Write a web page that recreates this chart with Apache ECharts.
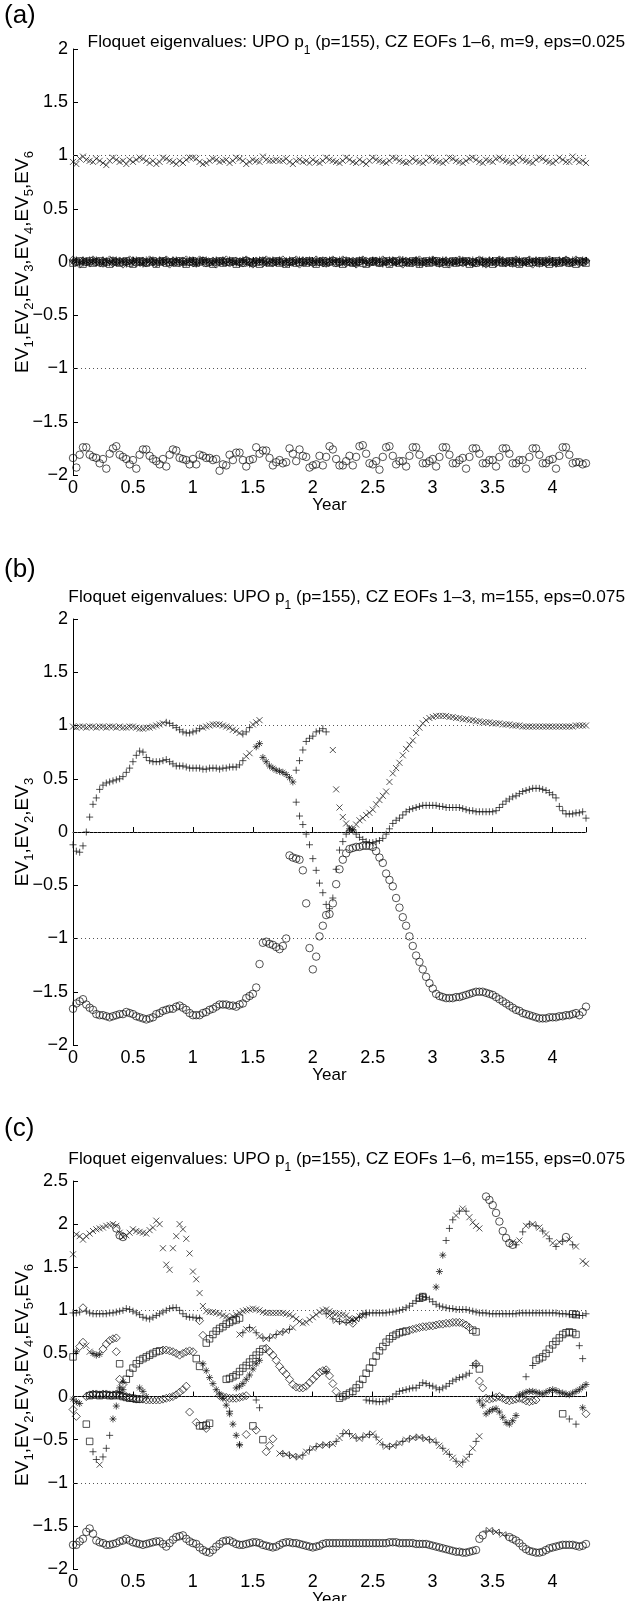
<!DOCTYPE html>
<html><head><meta charset="utf-8">
<script src="https://cdn.jsdelivr.net/npm/echarts@6/dist/echarts.min.js"></script>
<style>html,body{margin:0;padding:0;background:#fff}#c{width:626px;height:1601px}</style>
</head><body><div id="c"></div>
<script>
// ---------- sampling grid ----------
const N_POINTS = 155;
const X_MAX = 4.28;
const X_TICKS = [0, 0.5, 1, 1.5, 2, 2.5, 3, 3.5, 4];

// ---------- panel (a) : one value per sample ----------
const A_CROSS = [
0.94,0.92,0.97,0.99,0.96,0.95,0.94,0.97,0.95,0.93,
0.91,0.95,0.98,0.96,0.94,0.95,0.92,0.96,0.94,0.96,
0.98,0.97,0.95,0.93,0.95,0.92,0.94,0.98,0.97,0.95,
0.94,0.92,0.95,0.93,0.96,0.98,0.98,0.97,0.94,0.92,
0.93,0.95,0.97,0.96,0.94,0.95,0.96,0.93,0.95,0.98,
0.97,0.95,0.92,0.94,0.96,0.95,0.94,0.99,0.96,0.95,
0.95,0.96,0.95,0.95,0.97,0.94,0.92,0.95,0.96,0.94,
0.95,0.93,0.96,0.94,0.93,0.95,0.98,0.96,0.95,0.94,
0.93,0.95,0.98,0.96,0.94,0.93,0.96,0.94,0.92,0.95,
0.98,0.96,0.95,0.94,0.93,0.95,0.98,0.97,0.95,0.94,
0.93,0.94,0.97,0.95,0.94,0.93,0.95,0.98,0.96,0.95,
0.94,0.93,0.95,0.98,0.97,0.95,0.94,0.93,0.95,0.97,
0.98,0.96,0.94,0.93,0.96,0.95,0.94,0.97,0.98,0.96,
0.95,0.94,0.93,0.95,0.98,0.96,0.95,0.94,0.93,0.96,
0.98,0.97,0.95,0.94,0.93,0.95,0.98,0.96,0.94,0.94,
0.99,0.96,0.94,0.95,0.93];
const A_PLUS = [
0.01,0.02,0.00,-0.01,0.01,0.02,0.01,-0.01,0.00,0.02,
0.01,-0.01,0.00,0.02,0.01,0.00,-0.02,0.01,0.02,0.00,
-0.01,0.01,0.02,0.00,-0.01,0.01,0.02,0.01,-0.01,0.00,
0.02,0.01,0.00,-0.02,0.01,0.02,0.00,-0.01,0.01,0.02,
0.00,-0.01,0.01,0.02,0.01,-0.01,0.00,0.02,0.01,0.00,
-0.02,0.01,0.02,0.00,-0.01,0.01,0.02,0.01,-0.01,0.00,
0.02,0.01,0.00,-0.02,0.01,0.02,0.00,-0.01,0.01,0.02,
0.00,-0.01,0.01,0.02,0.01,-0.01,0.00,0.02,0.01,0.00,
-0.02,0.01,0.02,0.00,-0.01,0.01,0.02,0.01,-0.01,0.00,
0.02,0.01,0.00,-0.02,0.01,0.02,0.00,-0.01,0.01,0.02,
0.00,-0.01,0.01,0.02,0.01,-0.01,0.00,0.02,0.01,0.00,
-0.02,0.01,0.02,0.00,-0.01,0.01,0.02,0.01,-0.01,0.00,
0.02,0.01,0.00,-0.02,0.01,0.02,0.00,-0.01,0.01,0.02,
0.00,-0.01,0.01,0.02,0.01,-0.01,0.00,0.02,0.01,0.00,
-0.02,0.01,0.02,0.00,-0.01,0.01,0.02,0.01,-0.01,0.00,
0.02,0.01,0.00,-0.01,0.01];
const A_STAR = [
0.00,0.01,-0.01,0.02,0.00,-0.01,0.01,0.02,0.00,-0.02,
0.01,0.00,0.02,-0.01,0.00,0.01,0.01,-0.01,0.00,0.02,
0.01,-0.02,0.00,0.01,0.02,-0.01,0.00,0.01,0.02,0.00,
-0.01,0.02,0.01,0.00,-0.01,0.01,0.02,-0.02,0.00,0.01,
0.02,0.00,-0.01,0.01,0.00,0.02,-0.01,0.01,0.00,-0.01,
0.01,0.02,0.00,-0.02,0.01,0.00,0.01,0.02,-0.01,0.00,
0.01,-0.01,0.02,0.00,0.01,-0.02,0.01,0.00,0.02,-0.01,
0.00,0.02,0.00,-0.01,0.01,0.02,-0.02,0.00,0.01,0.01,
0.02,-0.01,0.00,0.01,0.00,-0.02,0.01,0.02,0.00,-0.01,
0.01,0.00,0.02,-0.01,0.00,0.01,0.02,-0.01,0.00,0.02,
-0.01,0.01,0.00,0.02,-0.02,0.00,0.01,0.00,0.02,-0.01,
0.01,0.02,-0.01,0.00,0.01,-0.01,0.00,0.02,0.01,0.00,
-0.02,0.01,0.00,0.02,-0.01,0.01,0.00,0.01,0.02,-0.01,
0.00,0.01,-0.02,0.01,0.02,0.00,-0.01,0.01,0.00,0.02,
0.01,-0.01,0.00,0.02,0.01,-0.02,0.00,0.01,0.02,0.00,
-0.01,0.01,0.00,0.02,0.01];
const A_SQUARE = [
-0.01,0.00,0.01,-0.02,0.00,0.01,-0.01,0.00,0.01,-0.01,
0.00,-0.02,0.01,0.00,-0.01,0.00,0.01,-0.01,-0.02,0.00,
0.01,0.00,-0.01,0.00,0.01,-0.02,0.00,0.01,-0.01,0.00,
0.00,-0.01,0.01,0.00,-0.02,0.00,0.01,-0.01,0.00,0.01,
-0.01,0.00,-0.02,0.00,0.01,-0.01,0.00,0.00,0.01,-0.02,
0.00,-0.01,0.01,0.00,-0.01,0.00,-0.02,0.01,0.00,-0.01,
0.00,0.01,-0.01,0.00,-0.02,0.00,0.01,-0.01,0.00,0.00,
-0.01,0.01,0.00,-0.02,0.00,0.01,-0.01,0.00,0.01,-0.01,
0.00,-0.02,0.01,0.00,-0.01,0.00,0.01,-0.01,-0.02,0.00,
0.01,0.00,-0.01,0.00,0.01,-0.02,0.00,0.01,-0.01,0.00,
0.00,-0.01,0.01,0.00,-0.02,0.00,0.01,-0.01,0.00,0.01,
-0.01,0.00,-0.02,0.00,0.01,-0.01,0.00,0.00,0.01,-0.02,
0.00,-0.01,0.01,0.00,-0.01,0.00,-0.02,0.01,0.00,-0.01,
0.00,0.01,-0.01,0.00,-0.02,0.00,0.01,-0.01,0.00,0.00,
-0.01,0.01,0.00,-0.02,0.00,0.01,-0.01,0.00,0.01,-0.01,
0.00,-0.02,0.01,0.00,-0.01];
const A_DIAMOND = [
0.02,0.00,-0.02,0.01,0.00,-0.01,0.02,0.00,-0.01,0.01,
0.00,0.02,-0.01,0.00,0.01,-0.02,0.00,0.02,0.01,-0.01,
0.00,0.01,-0.01,0.02,0.00,-0.01,0.01,0.00,0.02,-0.02,
0.01,0.00,-0.01,0.01,0.02,0.00,-0.01,0.00,0.02,0.01,
-0.01,0.00,0.01,-0.02,0.00,0.01,0.02,-0.01,0.00,0.01,
0.00,-0.01,0.02,0.00,-0.02,0.01,0.00,-0.01,0.02,0.01,
-0.01,0.00,0.01,0.02,-0.01,0.00,0.00,0.02,-0.02,0.01,
0.01,0.00,-0.01,0.02,0.00,-0.01,0.01,0.00,0.02,-0.01,
0.00,0.02,-0.01,0.00,0.01,-0.02,0.00,0.02,0.01,-0.01,
0.00,0.01,-0.01,0.02,0.00,-0.01,0.01,0.00,0.02,-0.02,
0.01,0.00,-0.01,0.01,0.02,0.00,-0.01,0.00,0.02,0.01,
-0.01,0.00,0.01,-0.02,0.00,0.01,0.02,-0.01,0.00,0.01,
0.00,-0.01,0.02,0.00,-0.02,0.01,0.00,-0.01,0.02,0.01,
-0.01,0.00,0.01,0.02,-0.01,0.00,0.00,0.02,-0.02,0.01,
0.01,0.00,-0.01,0.02,0.00,-0.01,0.01,0.00,0.02,-0.01,
0.00,0.02,-0.01,0.00,0.01];
const A_CIRCLE = [
-1.84,-1.93,-1.81,-1.74,-1.74,-1.81,-1.83,-1.84,-1.89,-1.85,
-1.94,-1.80,-1.75,-1.73,-1.81,-1.83,-1.85,-1.90,-1.86,-1.94,
-1.81,-1.76,-1.76,-1.82,-1.85,-1.87,-1.90,-1.85,-1.92,-1.81,
-1.76,-1.77,-1.84,-1.85,-1.86,-1.90,-1.85,-1.90,-1.81,-1.82,
-1.84,-1.84,-1.86,-1.85,-1.96,-1.90,-1.91,-1.81,-1.86,-1.79,
-1.79,-1.86,-1.92,-1.86,-1.85,-1.74,-1.80,-1.77,-1.77,-1.84,
-1.91,-1.88,-1.86,-1.89,-1.88,-1.75,-1.80,-1.87,-1.76,-1.82,
-1.83,-1.93,-1.91,-1.90,-1.82,-1.91,-1.83,-1.73,-1.76,-1.85,
-1.91,-1.91,-1.87,-1.82,-1.91,-1.83,-1.73,-1.72,-1.80,-1.89,
-1.90,-1.87,-1.95,-1.83,-1.74,-1.73,-1.82,-1.90,-1.87,-1.87,
-1.92,-1.82,-1.74,-1.74,-1.81,-1.89,-1.89,-1.87,-1.85,-1.92,
-1.83,-1.74,-1.74,-1.81,-1.89,-1.89,-1.86,-1.84,-1.94,-1.83,
-1.75,-1.75,-1.80,-1.89,-1.89,-1.86,-1.86,-1.92,-1.83,-1.75,
-1.75,-1.80,-1.89,-1.89,-1.86,-1.86,-1.94,-1.83,-1.75,-1.75,
-1.81,-1.89,-1.89,-1.86,-1.85,-1.94,-1.82,-1.74,-1.74,-1.81,
-1.89,-1.88,-1.88,-1.90,-1.89];

// ---------- panel (b) : runs [firstSampleIndex, values] ----------
const B_CROSS = [
 [0, [0.99,0.98,0.99,0.99,0.98,0.99,0.99,0.98,0.99,0.99,0.98,0.99,0.99,0.98,0.99,0.98,0.98,0.99,0.99,0.98,0.97,0.97,0.98,0.98,0.99,1.00,1.01,1.02]],
 [39, [0.98,0.99,1.00,1.01,1.01,1.01,1.00,0.99,0.98,0.96,0.95,0.93]],
 [54, [1.01,1.03,1.05]],
 [52, [0.71,0.74]],
 [78, [0.77,0.40,0.23,0.14,0.08,0.04,0.02]],
 [85, [0.07,0.11,0.13,0.16,0.18,0.21,0.26,0.30,0.34,0.38,0.47,0.55,0.60,0.65,0.72,0.78,0.82,0.86,0.93,0.98,
       1.02,1.05,1.07,1.08,1.09,1.09,1.09,1.09,1.08,1.08,1.07,1.07,1.06,1.06,1.05,1.05,1.04,1.04,1.03,1.03,
       1.03,1.02,1.02,1.02,1.01,1.01,1.01,1.00,1.00,1.00,0.99,0.99,0.99,0.99,0.99,0.99,0.99,0.99,0.99,0.99,
       0.99,0.99,0.99,0.99,0.99,0.99,1.00,1.00,1.00,1.00]]
];
const B_PLUS = [
 [28, [1.03,1.02,1.00,0.98,0.96,0.94,0.93,0.93,0.94,0.95,0.97]],
 [51, [0.92,0.94,0.98]],
 [0, [-0.12,-0.18,-0.19,-0.13,0.00,0.14,0.26,0.32,0.40,0.44,0.46,0.47,0.48,0.49,0.50,0.52,0.56,0.60,0.66,0.72,
      0.76,0.75,0.70,0.67,0.66,0.66,0.66,0.67,0.68,0.66,0.64,0.62,0.62,0.62,0.61,0.60,0.60,0.60,0.60,0.59,
      0.59,0.60,0.60,0.60,0.59,0.60,0.60,0.61,0.61,0.61,0.63,0.67]],
 [67, [0.58,0.67,0.77,0.85,0.88,0.90,0.94,0.95,0.97,0.94]],
 [67, [0.28,0.15,0.07,-0.02,-0.12,-0.25,-0.36,-0.48,-0.57,-0.68,-0.72]],
 [78, [-0.62,-0.35,-0.17,-0.09,-0.02,0.01,0.02]],
 [85, [-0.02,-0.05,-0.07,-0.09,-0.10,-0.10,-0.09,-0.08,-0.06,-0.02,
       0.03,0.08,0.11,0.13,0.16,0.19,0.21,0.22,0.23,0.24,
       0.25,0.25,0.25,0.25,0.25,0.24,0.24,0.23,0.23,0.23,
       0.23,0.23,0.22,0.21,0.20,0.20,0.19,0.19,0.19,0.19,
       0.19,0.19,0.20,0.23,0.26,0.29,0.31,0.33,0.34,0.36,
       0.38,0.39,0.40,0.41,0.41,0.41,0.40,0.39,0.37,0.35,
       0.32,0.24,0.20,0.17,0.17,0.17,0.18,0.18,0.19,0.13]]
];
const B_STAR = [
 [55, [0.80,0.83]],
 [57, [0.70,0.66,0.62,0.60,0.58,0.57,0.56,0.54,0.51,0.47]],
 [83, [0.03,0.02]]
];
const B_CIRCLE = [
 [0, [-1.66,-1.61,-1.59,-1.57,-1.62,-1.65,-1.67,-1.71,-1.72,-1.72,
      -1.73,-1.74,-1.73,-1.72,-1.71,-1.71,-1.69,-1.70,-1.71,-1.73,
      -1.74,-1.75,-1.76,-1.75,-1.74,-1.71,-1.70,-1.68,-1.67,-1.66,
      -1.66,-1.64,-1.63,-1.65,-1.67,-1.70,-1.72,-1.72,-1.72,-1.70,
      -1.69,-1.67,-1.66,-1.64,-1.62,-1.62,-1.62,-1.63,-1.63,-1.64,
      -1.62,-1.61,-1.56,-1.54,-1.52,-1.46,-1.24,-1.04,-1.03,-1.05,
      -1.06,-1.08,-1.10,-1.07,-1.00]],
 [65, [-0.22,-0.24,-0.25,-0.26,-0.36,-0.67,-1.09,-1.29,-1.17,-0.98,
       -0.88,-0.78,-0.77,-0.67,-0.49,-0.35,-0.26,-0.20,-0.16,-0.15,
       -0.14,-0.14,-0.13,-0.13,-0.13,-0.14,-0.18,-0.24,-0.29,-0.39,
       -0.45,-0.51,-0.62,-0.71,-0.80,-0.88,-0.98,-1.07,-1.16,-1.22,
       -1.29,-1.36,-1.42,-1.47,-1.52,-1.54,-1.55,-1.56,-1.56,-1.56,
       -1.55,-1.55,-1.54,-1.53,-1.52,-1.51,-1.50,-1.50,-1.50,-1.51,
       -1.52,-1.53,-1.55,-1.57,-1.59,-1.61,-1.63,-1.65,-1.67,-1.68,
       -1.70,-1.71,-1.72,-1.73,-1.74,-1.75,-1.75,-1.75,-1.74,-1.74,
       -1.74,-1.73,-1.73,-1.72,-1.72,-1.71,-1.70,-1.72,-1.69,-1.64]]
];

// ---------- panel (c) : runs [firstSampleIndex, values] ----------
const C_CROSS = [
 [0, [1.65,1.88,1.86,1.82,1.86,1.89,1.92,1.94,1.95,1.96,1.98,1.99,2.00,1.98,1.90,1.85,1.87,1.90,1.94,1.92,
      1.91,1.90,1.89,1.93,1.96,2.04,2.00,1.72,1.53,1.47,1.72,1.86,2.00,1.94,1.83,1.66,1.45,1.36,1.20,1.05]],
 [40, [0.99,0.98,0.98,0.97,0.96,0.94,0.93,0.91,0.93,0.95,0.97,0.99,1.00,1.01,1.02,1.01,1.00,0.98,0.97,0.97,
       0.97,0.97,0.97,0.97,0.96,0.95,0.93,0.90,0.87,0.85,0.86,0.89,0.92,0.95,0.98,1.00,1.01,0.99,0.97,0.96,
       0.95,0.95,0.94,0.91,0.89,0.90,0.93]],
 [4, [0.59,0.52]],
 [8, [-0.79]],
 [115, [2.10]], [117, [2.18]], [119, [2.08,2.02,1.98,1.95]],
 [151, [1.74]], [153, [1.57,1.54]]
];
const C_PLUS = [
 [0, [0.97,0.97,0.98]],
 [4, [0.99,0.97,0.96,0.96,0.96,0.96,0.96,0.97,0.97,0.98,0.99,1.00,1.02,1.01,0.99,0.97,0.95,0.92,0.91,0.90,
      0.92,0.94,0.96,0.98,1.00,1.02,1.03,1.03,1.00,0.96,0.93,0.92,0.92,0.91,0.91]],
 [6, [-0.64,-0.73]], [9, [-0.70,-0.60,-0.45]],
 [87, [0.96,0.97,0.97,0.97,0.97,0.97,0.97,0.97,0.98,0.98,
       0.99,1.00,1.01,1.03,1.05,1.08,1.11,1.14,1.16,1.15,
       1.13,1.10,1.07,1.05,1.04,1.03,1.02,1.02,1.01,1.01,
       1.01,1.01,1.00,0.99,0.98,0.97,0.97,0.97,0.96,0.96,
       0.96,0.96,0.96,0.96,0.96,0.96,0.96,0.97,0.97,0.97,
       0.97,0.97,0.97,0.97,0.97,0.97,0.97,0.97,0.97,0.96,
       0.96,0.96,0.95,0.95,0.95,0.94,0.94,0.96]],
 [88, [-0.04,-0.05,-0.05,-0.06,-0.06,-0.06,-0.05,-0.03,0.00,0.03,
       0.06,0.07,0.08,0.09,0.10,0.10,0.13,0.16,0.15,0.13,
       0.12,0.10,0.08,0.10,0.12,0.15,0.18,0.20,0.22,0.23,
       0.25,0.27,0.36,0.38]],
 [47, [-0.17]], [50, [-0.56]], [55, [-0.04,-0.13]],
 [112, [1.81,1.95,2.05]], [116, [2.15]], [118, [2.15]],
 [136, [0.23]], [138, [0.36]], [152, [0.59,0.44]], [149, [-0.26]], [151, [-0.32]]
];
const C_STAR = [
 [0, [-0.03,-0.06,-0.08]], [1, [0.52]], [6, [0.50,0.48,0.49]],
 [12, [-0.26,-0.11,0.05,0.17]],
 [14, [0.10,0.08]], [20, [0.10,0.06,0.00]],
 [39, [0.38,0.30,0.22,0.15,0.08,0.03,-0.02,-0.10,-0.20,-0.32,-0.45,-0.56]],
 [49, [0.10,0.12,0.15,0.20,0.25,0.32,0.38,0.42]],
 [76, [0.29]],
 [109, [1.27,1.45,1.64]],
 [122, [-0.05,-0.10,-0.20,-0.17,-0.15,-0.14,-0.18,-0.24,-0.30,-0.32,-0.28,-0.22]],
 [134, [0.02,0.03,0.05,0.06,0.06,0.05,0.04,0.03,0.05,0.07,0.08,0.07,0.05,0.04,0.03,0.02,0.04,0.06,0.08,0.11,0.14]],
 [153, [-0.13]]
];
const C_SQUARE = [
 [0, [0.46]], [4, [-0.32,-0.52]], [14, [0.38]],
 [5, [0.01,0.02,0.02,0.01,0.02,0.02,0.01,0.01,0.02,0.01,0.00,-0.01,-0.02,-0.02,-0.03,-0.03]],
 [16, [0.20,0.27,0.33,0.38,0.42,0.44,0.46,0.48,0.50,0.52,0.53]],
 [37, [0.44,0.35]],
 [38, [-0.34,-0.34,-0.33,-0.31]],
 [40, [0.62,0.67,0.72,0.76,0.79,0.81,0.84,0.86,0.88,0.89,0.91]],
 [46, [0.20,0.21,0.23,0.25,0.29,0.33,0.36,0.40,0.44,0.48,0.52,0.55]],
 [54, [-0.34]], [57, [-0.50]],
 [80, [-0.02,0.00,0.02,0.04,0.06,0.10,0.14,0.20,0.27,0.33,0.40,0.47,0.53,0.58,0.63,0.67,0.70,0.72,0.74,0.75,0.76]],
 [104, [1.14,1.16]],
 [120, [0.77,0.75]], [122, [0.32]],
 [139, [0.42,0.44,0.46,0.50,0.55,0.60,0.64,0.68,0.72,0.74,0.75,0.74,0.72]],
 [147, [-0.20]], [150, [0.96,0.95]]
];
const C_DIAMOND = [
 [0, [-0.15,-0.23]], [2, [0.58,0.63]], [3, [1.03]],
 [4, [0.00,0.02,0.03,0.03,0.02,0.03,0.03,0.02,0.02,0.03,0.02,0.01,0.00,-0.01,-0.02,-0.03,-0.03,-0.03,-0.04,-0.04,
      -0.04,-0.04,-0.04,-0.03,-0.02,-0.01,0.00,0.02,0.05,0.08,0.12]],
 [9, [0.55,0.61,0.65,0.67,0.68]],
 [13, [0.52]], [14, [0.20,0.14]],
 [27, [0.54,0.54,0.53,0.52,0.50,0.48,0.50,0.52,0.53,0.52]],
 [35, [-0.18]], [37, [-0.30]],
 [38, [0.88,0.71]], [40, [-0.37]],
 [44, [0.01,0.00,-0.01,-0.02,-0.02,-0.02,-0.01,0.00,0.01]],
 [52, [-0.44]], [55, [-0.39]], [58, [-0.64,-0.57,-0.49]],
 [58, [0.56,0.52,0.48,0.42,0.35,0.30,0.26,0.20,0.14,0.11,0.10,0.10,0.12,0.16,0.20,0.24,0.28,0.30,0.31,0.24,0.15,0.06]],
 [84, [0.85]],
 [101, [0.77,0.78,0.79,0.80,0.81,0.81,0.82,0.82,0.83,0.84,0.84,0.85,0.85,0.86,0.86,0.86,0.85,0.83,0.80]],
 [121, [0.38]], [122, [0.18,0.10]],
 [124, [-0.02,-0.03,-0.02,-0.01,0.00,-0.02,-0.04,-0.05,-0.04,-0.03,-0.02,-0.03,-0.05,-0.06,-0.05,-0.04]],
 [154, [-0.20]]
];
const C_CIRCLE = [
 [0, [-1.72,-1.72,-1.68,-1.65,-1.57,-1.53,-1.59,-1.67,-1.69,-1.70,
      -1.72,-1.72,-1.71,-1.70,-1.68,-1.67,-1.65,-1.67,-1.69,-1.70,
      -1.71,-1.72,-1.71,-1.70,-1.69,-1.68,-1.68,-1.71,-1.74,-1.70,
      -1.66,-1.63,-1.62,-1.61,-1.65,-1.68,-1.70,-1.71,-1.75,-1.78,
      -1.80,-1.81,-1.78,-1.74,-1.71,-1.68,-1.67,-1.67,-1.69,-1.71,
      -1.72,-1.72,-1.71,-1.70,-1.69,-1.69,-1.70,-1.72,-1.73,-1.74,
      -1.75,-1.74,-1.72,-1.70,-1.69,-1.69,-1.70,-1.70,-1.71,-1.72,
      -1.73,-1.74,-1.75,-1.74,-1.73,-1.71,-1.70,-1.70,-1.70,-1.70,
      -1.70,-1.70,-1.70,-1.70,-1.70,-1.70,-1.70,-1.70,-1.70,-1.70,
      -1.70,-1.70,-1.70,-1.70,-1.70,-1.69,-1.69,-1.69,-1.70,-1.70,
      -1.70,-1.70,-1.70,-1.71,-1.71,-1.71,-1.71,-1.72,-1.73,-1.74,
      -1.75,-1.76,-1.77,-1.78,-1.79,-1.80,-1.80,-1.81,-1.81,-1.80,
      -1.79,-1.78]],
 [122, [-1.65,-1.61]],
 [131, [-1.63,-1.65,-1.67,-1.70,-1.74,-1.77,-1.79,-1.80,-1.81,-1.81,-1.80,-1.78,-1.76,-1.75,-1.74,-1.73,-1.72,-1.72,-1.72,-1.72,-1.73,-1.74,-1.73,-1.71]],
 [13, [1.95,1.87,1.85]],
 [124, [2.32,2.28,2.22,2.13,2.03,1.92,1.84,1.78,1.76]],
 [148, [1.85]],
 [105, [1.15]]
];
const C_MIXED = [
 [62, [-0.66,-0.66,-0.67,-0.68,-0.69,-0.70,-0.70,-0.68,-0.64,-0.62,
       -0.60,-0.58,-0.57,-0.56,-0.56,-0.56,-0.55,-0.52,-0.48,-0.43,
       -0.41,-0.43,-0.46,-0.48,-0.49,-0.47,-0.45,-0.44,-0.43,-0.47,
       -0.52,-0.56,-0.58,-0.58,-0.57,-0.56,-0.54,-0.52,-0.50,-0.49,
       -0.48,-0.47,-0.47,-0.48,-0.49,-0.50,-0.51,-0.53,-0.57,-0.60,
       -0.64,-0.67,-0.71,-0.75,-0.79,-0.76,-0.72,-0.67,-0.60,-0.52]],
 [122, [-0.46]],
 [124, [-1.56,-1.55,-1.56,-1.57,-1.58,-1.60,-1.61]],
 [132, [1.79,1.76,1.81,1.91,1.98,2.00,2.00,1.98,1.96,1.92,1.88,1.83,1.78,1.74,1.79,1.80]],
 [149, [1.82,1.76]],
 [50, [0.72,0.74,0.78,0.80,0.78,0.74,0.70,0.68,0.67,0.68,0.70,0.72,0.74,0.75,0.76,0.78,0.80]],
 [76, [0.96,0.94,0.90,0.88,0.87,0.87,0.86,0.87,0.88,0.90,0.92,0.94,0.95]]
];

// ---------- rendering ----------
const STEP = X_MAX / (N_POINTS - 1);
const SYM = {
  cross: 'path://M0,0L10,10M10,0L0,10',
  plus: 'path://M5,0L5,10M0,5L10,5',
  star: 'path://M5,0L5,10M0,5L10,5M1.5,1.5L8.5,8.5M8.5,1.5L1.5,8.5',
  circle: 'circle', square: 'rect', diamond: 'diamond'
};
const SIZE = {cross: 6, plus: 7, star: 7, circle: 7.5, square: 6.5, diamond: 8};
function fromArray(vals) { return vals.map((v, i) => [i * STEP, v]); }
function fromRuns(runs) {
  const out = [];
  runs.forEach(([s, vals]) => vals.forEach((v, k) => out.push([(s + k) * STEP, v])));
  return out;
}
function scatter(g, data, kind, extra) {
  return Object.assign({
    type: 'scatter', xAxisIndex: g, yAxisIndex: g, data,
    symbol: SYM[kind], symbolSize: SIZE[kind], silent: true, animation: false,
    itemStyle: {color: 'rgba(0,0,0,0)', borderColor: '#111', borderWidth: 0.9}
  }, extra || {});
}
function refLines(g) {
  return {
    type: 'scatter', xAxisIndex: g, yAxisIndex: g, data: [], silent: true, animation: false,
    markLine: {silent: true, symbol: ['none', 'none'], label: {show: false}, animation: false,
      lineStyle: {type: [1, 3], color: '#555', width: 1},
      data: [{yAxis: 1}, {yAxis: 0}, {yAxis: -1}]}
  };
}
const FONT = 'Liberation Sans, Arial, Helvetica, sans-serif';
const GRIDS = [
  {left: 73, right: 40, top: 49, height: 426, outerBoundsMode: 'none', containLabel: false},
  {left: 73, right: 40, top: 619, height: 426, outerBoundsMode: 'none', containLabel: false},
  {left: 73, right: 40, top: 1181, height: 388, outerBoundsMode: 'none', containLabel: false}
];
const YR = [[-2, 2], [-2, 2], [-2, 2.5]];
const YNAMES = [
  'EV{s|1},EV{s|2},EV{s|3},EV{s|4},EV{s|5},EV{s|6}',
  'EV{s|1},EV{s|2},EV{s|3}',
  'EV{s|1},EV{s|2},EV{s|3},EV{s|4},EV{s|5},EV{s|6}'
];
const TITLES = [
  'Floquet eigenvalues: UPO p{s|1} (p=155), CZ EOFs 1\u20136, m=9, eps=0.025',
  'Floquet eigenvalues: UPO p{s|1} (p=155), CZ EOFs 1\u20133, m=155, eps=0.075',
  'Floquet eigenvalues: UPO p{s|1} (p=155), CZ EOFs 1\u20136, m=155, eps=0.075'
];
const LETTERS = ['(a)', '(b)', '(c)'];
const LETTER_TOP = [3, 557, 1116];
const TITLE_TOP = [27, 582, 1144];

const fmt = v => (v < 0 ? '\u2212' : '') + Math.abs(v);
const xAxes = GRIDS.map((g, i) => ({
  type: 'value', gridIndex: i, min: 0, max: X_MAX, interval: 0.5,
  name: 'Year', nameLocation: 'middle', nameGap: 22, nameMoveOverlap: false,
  nameTextStyle: {fontFamily: FONT, fontSize: 17, color: '#000'},
  axisLine: {lineStyle: {color: '#000', width: 1}},
  axisTick: {inside: true, length: 5, lineStyle: {color: '#000'}},
  axisLabel: {fontFamily: FONT, fontSize: 18, color: '#000', margin: 4,
    formatter: v => X_TICKS.some(t => Math.abs(t - v) < 1e-9) ? fmt(v) : ''},
  splitLine: {show: false}
}));
const yAxes = GRIDS.map((g, i) => ({
  type: 'value', gridIndex: i, min: YR[i][0], max: YR[i][1], interval: 0.5,
  name: YNAMES[i], nameLocation: 'middle', nameRotate: 90, nameGap: 37, nameMoveOverlap: false,
  nameTextStyle: {fontFamily: FONT, fontSize: 19, color: '#000', lineHeight: 22,
    rich: {s: {fontFamily: FONT, fontSize: 13, color: '#000', verticalAlign: 'bottom', lineHeight: 26}}},
  axisLine: {lineStyle: {color: '#000', width: 1}},
  axisTick: {inside: true, length: 5, lineStyle: {color: '#000'}},
  axisLabel: {fontFamily: FONT, fontSize: 18, color: '#000', margin: 5, formatter: fmt},
  splitLine: {show: false}
}));
const titles = [];
LETTERS.forEach((t, i) => titles.push({text: t, left: 4, top: LETTER_TOP[i], padding: 0,
  textStyle: {fontFamily: FONT, fontSize: 26, fontWeight: 'normal', color: '#000'}}));
TITLES.forEach((t, i) => titles.push({text: t, right: 1, top: TITLE_TOP[i], padding: 0,
  textStyle: {fontFamily: FONT, fontSize: 17.3, fontWeight: 'normal', color: '#000', lineHeight: 20,
    rich: {s: {fontFamily: FONT, fontSize: 12, color: '#000', verticalAlign: 'bottom', lineHeight: 30}}}}));

const series = [
  refLines(0), refLines(1), refLines(2),
  scatter(0, fromArray(A_CROSS), 'cross'),
  scatter(0, fromArray(A_PLUS), 'plus'),
  scatter(0, fromArray(A_STAR), 'star'),
  scatter(0, fromArray(A_SQUARE), 'square'),
  scatter(0, fromArray(A_DIAMOND), 'diamond'),
  scatter(0, fromArray(A_CIRCLE), 'circle'),
  scatter(1, fromRuns(B_CROSS), 'cross'),
  scatter(1, fromRuns(B_PLUS), 'plus'),
  scatter(1, fromRuns(B_STAR), 'star'),
  scatter(1, fromRuns(B_CIRCLE), 'circle'),
  scatter(2, fromRuns(C_CROSS), 'cross'),
  scatter(2, fromRuns(C_PLUS), 'plus'),
  scatter(2, fromRuns(C_STAR), 'star'),
  scatter(2, fromRuns(C_SQUARE), 'square'),
  scatter(2, fromRuns(C_DIAMOND), 'diamond'),
  scatter(2, fromRuns(C_CIRCLE), 'circle'),
  scatter(2, fromRuns(C_MIXED), 'cross', {
    symbol: (val, p) => (p.dataIndex % 2 ? SYM.plus : SYM.cross),
    symbolSize: (val, p) => (p.dataIndex % 2 ? SIZE.plus : SIZE.cross)
  })
];

const chart = echarts.init(document.getElementById('c'), null, {renderer: 'canvas'});
chart.setOption({
  backgroundColor: '#fff', animation: false,
  title: titles, grid: GRIDS, xAxis: xAxes, yAxis: yAxes, series
});
</script></body></html>
